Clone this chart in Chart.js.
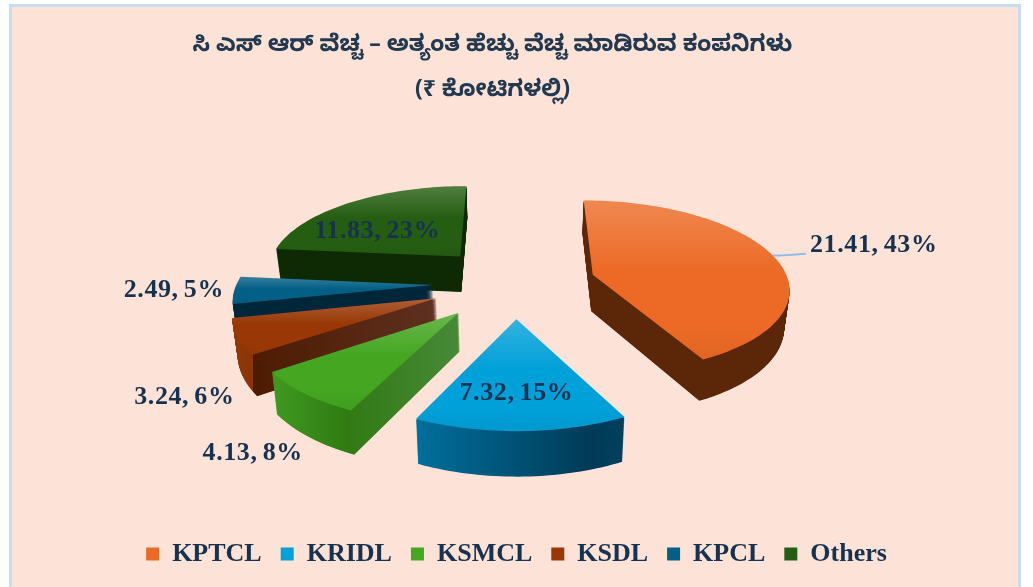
<!DOCTYPE html>
<html><head><meta charset="utf-8">
<style>
html,body{margin:0;padding:0;background:#fff;width:1033px;height:587px;overflow:hidden}
#panel{position:absolute;left:9px;top:4px;width:1006px;height:583px;background:#fde3d7;border:solid #c5dcf3;border-width:3px 3px 0 3px}
#wrap{position:absolute;left:0;top:0;width:1033px;height:587px}
</style>
<script src="https://cdn.jsdelivr.net/npm/chart.js@4"></script>
</head><body>
<div id="panel"></div>
<div id="wrap"><canvas id="c" width="1033" height="587"></canvas></div>
<script>
const titleLines = ['ಸಿ ಎಸ್ ಆರ್ ವೆಚ್ಚ – ಅತ್ಯಂತ ಹೆಚ್ಚು ವೆಚ್ಚ ಮಾಡಿರುವ ಕಂಪನಿಗಳು', '(₹ ಕೋಟಿಗಳಲ್ಲಿ)'];
const categories = ['KPTCL','KRIDL','KSMCL','KSDL','KPCL','Others'];
const values = [21.41,7.32,4.13,3.24,2.49,11.83];
const percents = [43,15,8,6,5,23];
const colors = ['#ec6a25','#00a0d8','#44a621','#993806','#035f86','#255e12'];

// styling / camera (not data)
const sideStops = [
 [[0,'#5c2609'],[1,'#5c2609']],
 [[0,'#006f9c'],[.85,'#003a56'],[1,'#00415f']],
 [[0,'#3f9a20'],[.42,'#2f7a12'],[.42,'#327a15'],[1,'#478938']],
 [[0,'#8f3a0a'],[.1,'#8a3505'],[.1,'#4d1b00'],[1,'#5e3020']],
 [[0,'#00263a'],[1,'#00263a']],
 [[0,'#0e2a05'],[1,'#0e2a05']]
];
const explode = [81,78,84,84,82,85];
const labelShift = [[281,-29],[0,74],[-206,141],[-252,99],[-259,5],[-83,-25]];
const leader = [true,false,false,false,false,false];
const drawOrder = [5,4,3,0,2,1];
const cam = {cx:515,cy:283,tilt:.44,persp:.00068,height:37,converge:.02};

function project(X,Y,t){
  const f=1/(1-cam.persp*Y);
  return {x:cam.cx+f*X*(1-cam.converge*t/cam.height),y:cam.cy+f*cam.tilt*Y+t*f,f};
}
const pie3d = {
  id:'pie3d',
  afterLayout(chart){ chart.titleBlock.left -= 48; },
  beforeDatasetDraw(chart){
    const ctx = chart.ctx, arcs = chart.getDatasetMeta(0).data;
    const geom = arcs.map((a,i)=>{
      const h=(a.startAngle+a.endAngle)/2, ex=explode[i]*Math.cos(h), ey=explode[i]*Math.sin(h);
      const pts=[[ex,ey]];
      const n=Math.max(8,Math.ceil((a.endAngle-a.startAngle)*40));
      for(let j=0;j<=n;j++){const q=a.startAngle+(a.endAngle-a.startAngle)*j/n;pts.push([ex+a.outerRadius*Math.cos(q),ey+a.outerRadius*Math.sin(q)]);}
      return {a,h,ex,ey,pts,apex:project(ex,ey,0),mid:project(ex+a.outerRadius*Math.cos(h),ey+a.outerRadius*Math.sin(h),0)};
    });
    const trace=(g,t)=>{ctx.beginPath();g.pts.forEach(([X,Y],j)=>{const p=project(X,Y,t);j?ctx.lineTo(p.x,p.y):ctx.moveTo(p.x,p.y);});ctx.closePath();};
    for(const i of drawOrder){
      const g=geom[i],top=g.pts.map(([X,Y])=>project(X,Y,0));
      const xs=top.map(p=>p.x),ys=top.map(p=>p.y);
      const gr=ctx.createLinearGradient(Math.min(...xs),0,Math.max(...xs),0);
      sideStops[i].forEach(([p,c])=>gr.addColorStop(p,c));
      ctx.fillStyle=gr;
      for(let t=cam.height;t>=1;t-=.5){trace(g,t);ctx.fill();}
      trace(g,0);ctx.fillStyle=g.a.options.backgroundColor;ctx.fill();
      const hl=ctx.createLinearGradient(0,Math.min(...ys),0,Math.max(...ys));
      hl.addColorStop(0,'rgba(255,255,255,.2)');hl.addColorStop(.45,'rgba(255,255,255,0)');
      hl.addColorStop(.8,'rgba(0,0,0,0)');hl.addColorStop(1,'rgba(0,0,0,.05)');
      trace(g,0);ctx.fillStyle=hl;ctx.fill();
    }
    ctx.save();
    ctx.font='bold 26px "Liberation Serif"';ctx.wordSpacing='-2px';ctx.letterSpacing='0.6px';
    ctx.fillStyle='#17324f';ctx.textAlign='center';ctx.textBaseline='middle';
    geom.forEach((g,i)=>{
      const x=g.apex.x+labelShift[i][0],y=g.apex.y+labelShift[i][1];
      const t=values[i].toFixed(2)+', '+percents[i]+'%';
      if(leader[i]){
        const e=g.mid;
        ctx.strokeStyle='#8dbce8';ctx.lineWidth=2;ctx.beginPath();ctx.moveTo(e.x,e.y);ctx.quadraticCurveTo(e.x+12,e.y,x-ctx.measureText(t).width/2-4,e.y-2);ctx.stroke();
      }
      ctx.fillText(t,x,y);
    });
    ctx.restore();
    return false;
  }
};

new Chart(document.getElementById('c'),{
  type:'pie',
  data:{labels:categories,datasets:[{data:values,backgroundColor:colors,borderWidth:0}]},
  plugins:[pie3d],
  options:{
    responsive:false,animation:false,
    rotation:0,radius:196,
    layout:{padding:{top:0,bottom:10,left:0,right:0}},
    plugins:{
      tooltip:{enabled:false},
      title:{display:true,text:titleLines,color:'#22394f',font:{family:'"Noto Sans","Noto Sans Kannada","DejaVu Sans",sans-serif',size:23,weight:'bold',lineHeight:1.96},padding:{top:22,bottom:10}},
      legend:{position:'bottom',labels:{color:'#17324f',boxWidth:13,boxHeight:13,padding:19,font:{family:'"Liberation Serif"',size:26,weight:'bold'}}}
    }
  }
});
</script>
</body></html>
